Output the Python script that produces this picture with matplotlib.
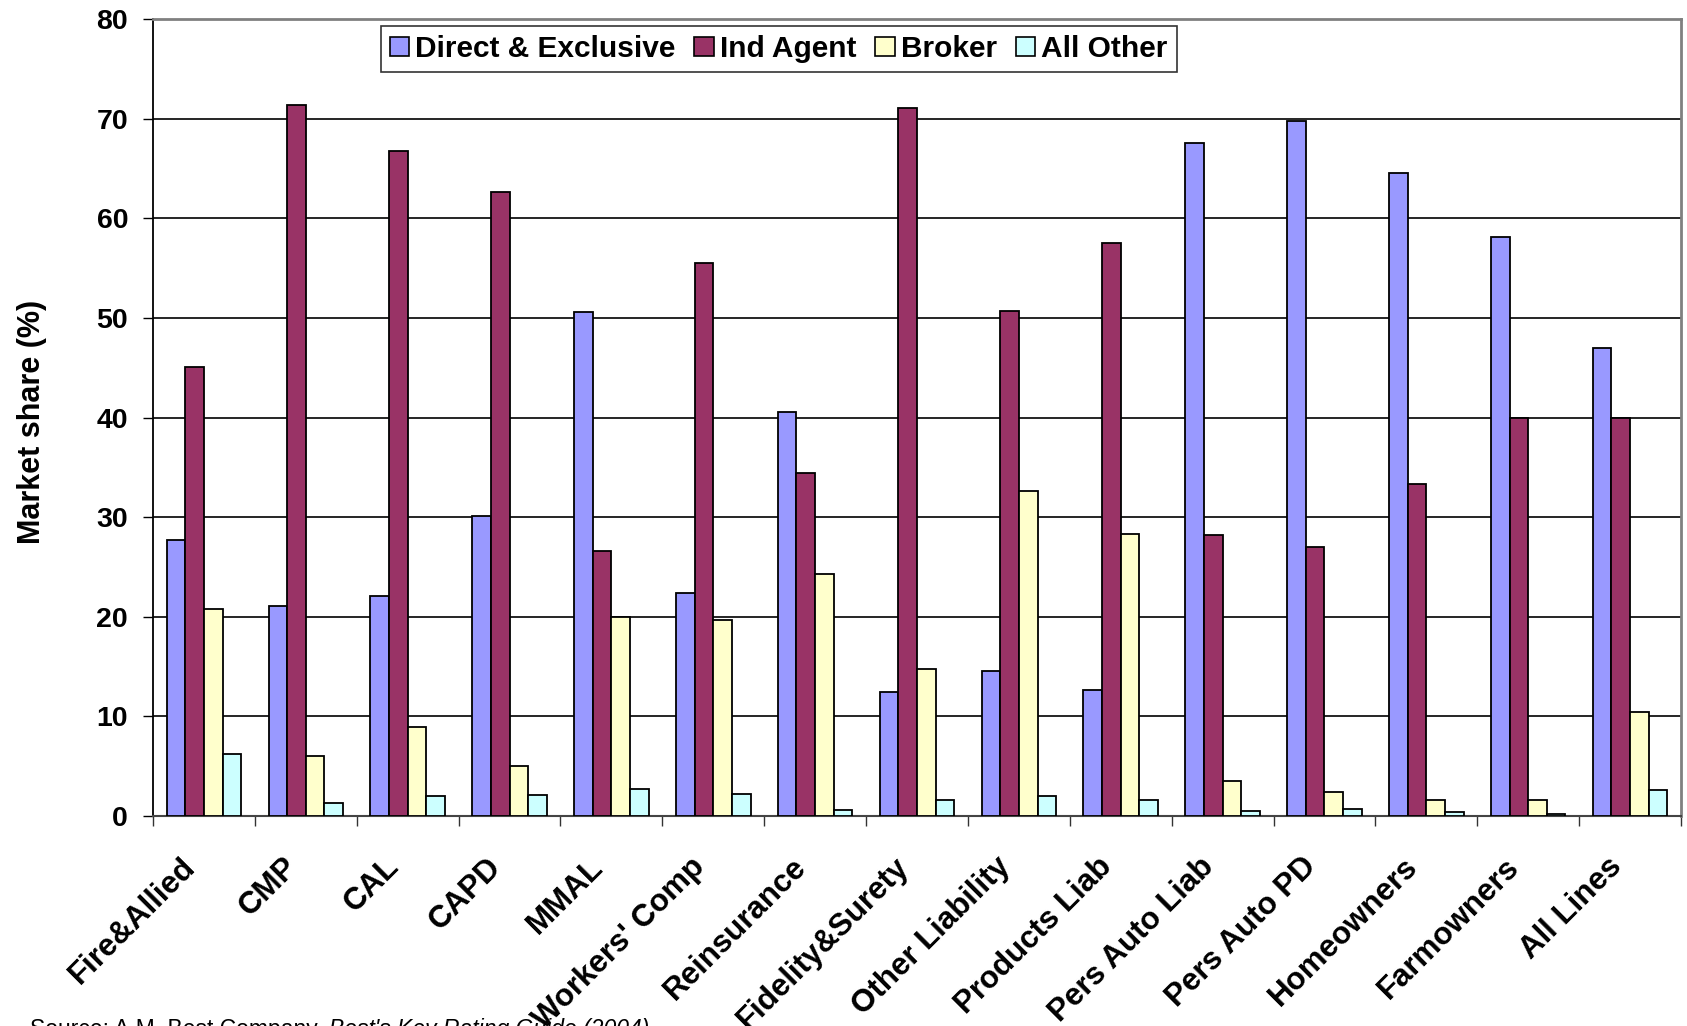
import matplotlib
matplotlib.use("Agg")
import matplotlib.pyplot as plt
import matplotlib.transforms as mtransforms
import numpy as np

categories = ["Fire&Allied", "CMP", "CAL", "CAPD", "MMAL", "Workers' Comp",
              "Reinsurance", "Fidelity&Surety", "Other Liability", "Products Liab",
              "Pers Auto Liab", "Pers Auto PD", "Homeowners", "Farmowners", "All Lines"]
direct_exclusive = [27.7, 21.1, 22.1, 30.1, 50.6, 22.4, 40.6, 12.4, 14.6, 12.6, 67.6, 69.8, 64.5, 58.1, 47.0]
ind_agent = [45.1, 71.4, 66.8, 62.6, 26.6, 55.5, 34.4, 71.1, 50.7, 57.5, 28.2, 27.0, 33.3, 39.9, 39.9]
broker = [20.8, 6.0, 8.9, 5.0, 20.0, 19.7, 24.3, 14.8, 32.6, 28.3, 3.5, 2.4, 1.6, 1.6, 10.4]
all_other = [6.2, 1.3, 2.0, 2.1, 2.7, 2.2, 0.6, 1.6, 2.0, 1.6, 0.5, 0.7, 0.4, 0.25, 2.6]
series_names = ["Direct & Exclusive", "Ind Agent", "Broker", "All Other"]
y_ticks = [0, 10, 20, 30, 40, 50, 60, 70, 80]

colors = ["#9999FF", "#993366", "#FFFFCC", "#CCFFFF"]

plt.rcParams['font.family'] = ['Liberation Sans', 'DejaVu Sans']
plt.rcParams['font.weight'] = 'bold'

fig = plt.figure(figsize=(16.87, 10.26), dpi=100)
ax = fig.add_axes([153/1687, 1 - 816/1026, (1681-153)/1687, (816-19)/1026])

x = np.arange(len(categories))
bw = 0.183
series = [direct_exclusive, ind_agent, broker, all_other]
for i, (vals, name, c) in enumerate(zip(series, series_names, colors)):
    ax.bar(x + (i - 1.5) * bw, vals, width=bw, color=c, edgecolor='black',
           linewidth=1.3, label=name, zorder=3)

ax.set_xlim(-0.5, len(categories) - 0.5)
ax.set_ylim(0, 80)
ax.set_yticks(y_ticks)
ax.set_yticklabels([str(v) for v in y_ticks], fontsize=20.5, fontweight='bold')
for v in y_ticks[1:-1]:
    ax.axhline(v, color='black', linewidth=1.2, zorder=1)

ax.set_xticks(x)
ax.set_xticklabels(categories, fontsize=22.5, fontweight='bold')
ax.set_xticks(np.arange(-0.5, len(categories), 1.0), minor=True)
ax.tick_params(axis='x', which='major', length=0, pad=37)
ax.tick_params(axis='x', which='minor', length=7, width=1.0, direction='out', color='#333333')
ax.tick_params(axis='y', which='major', length=7, width=1.0, direction='out', pad=11)
plt.setp(ax.get_xticklabels(), rotation=45, ha='right', va='center', rotation_mode='anchor')
offset = mtransforms.ScaledTranslation(-0.13, 0.05, fig.dpi_scale_trans)
for lab in ax.get_xticklabels():
    lab.set_transform(lab.get_transform() + offset)

ax.spines['left'].set_color('black')
ax.spines['left'].set_linewidth(1.3)
ax.spines['bottom'].set_color('#444444')
ax.spines['bottom'].set_linewidth(1.5)
ax.spines['top'].set_color('#808080')
ax.spines['top'].set_linewidth(2)
ax.spines['right'].set_color('#808080')
ax.spines['right'].set_linewidth(2)

ax.set_ylabel("Market share (%)", fontsize=22, fontweight='bold')
ax.yaxis.set_label_coords(-0.0694, 0.494)

leg = ax.legend(loc='upper left', bbox_to_anchor=(0.149, 0.991), ncol=4,
                prop={'weight': 'bold', 'size': 21.5},
                frameon=True, fancybox=False, edgecolor='black', borderpad=0.3,
                handlelength=0.64, handleheight=0.6, handletextpad=0.2,
                columnspacing=0.65, borderaxespad=0)
leg.get_frame().set_linewidth(1.2)
for h in leg.legend_handles:
    h.set_linewidth(1.2)

t1 = fig.text(30/1687, 1 - 1036/1026, "Source: A.M. Best Company, ", fontsize=16.5,
              fontweight='normal', va='baseline', ha='left')
fig.canvas.draw()
bb = t1.get_window_extent()
fig.text(bb.x1 / fig.bbox.width, 1 - 1036/1026, "Best's Key Rating Guide (2004)", fontsize=16.5,
         fontweight='normal', fontstyle='italic', va='baseline', ha='left')

fig.savefig("out.png", dpi=100)
